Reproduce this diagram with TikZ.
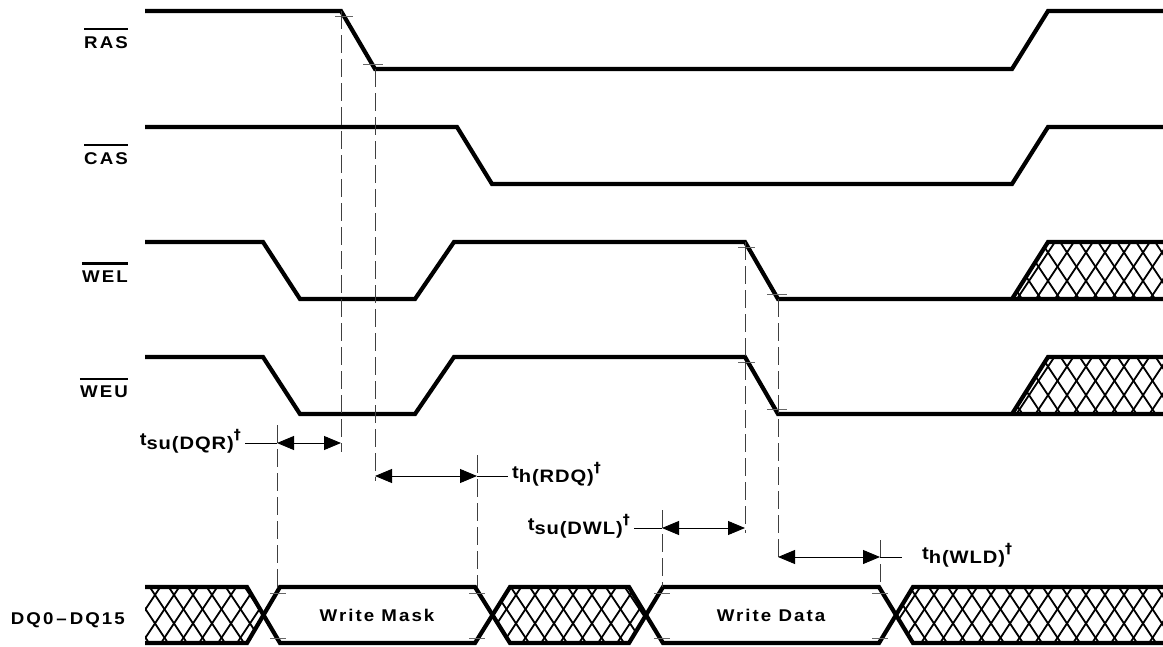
\documentclass[tikz,border=0pt]{standalone}
\usepackage{fontspec}
\newfontfamily\sigfont{Liberation Sans}[LetterSpace=12,FakeStretch=1.1]
\newfontfamily\parfont{Liberation Sans}[LetterSpace=5,FakeStretch=1.12]
\newfontfamily\dagfont{DejaVu Sans}
\usetikzlibrary{arrows.meta}
\tikzset{
  sig/.style={line width=4.2pt},
  guide/.style={line width=0.8pt, dash pattern=on 18pt off 6pt, black!75},
  edgetick/.style={line width=0.8pt, black!60},
  dimarrow/.style={line width=0.9pt, {Triangle[length=17pt,width=14pt]}-{Triangle[length=17pt,width=14pt]}},
  leader/.style={line width=0.9pt},
  hatchline/.style={line width=1.8pt},
  namebar/.style={line width=2.2pt},
  signame/.style={font=\sigfont\bfseries\fontsize{17}{19}\selectfont, inner sep=0pt, anchor=east},
  buslabel/.style={font=\sigfont\bfseries\fontsize{17}{19}\selectfont, inner sep=0pt},
  parlabel/.style={font=\parfont\bfseries\fontsize{18}{20}\selectfont, inner sep=0pt}
}
\newcommand{\tpar}[2]{t\raisebox{-4pt}{#1(#2)}\raisebox{6pt}{\dagfont\bfseries\fontsize{14}{16}\selectfont †}}
\newcommand{\xhatch}[1]{%
  \begin{scope}
    \clip #1;
    \foreach \i in {0,...,105} {
      \draw[hatchline] ({\i*19-450},0) -- ++(430,646);
      \draw[hatchline] ({\i*19},0) -- ++(-430,646);
    }
  \end{scope}}
\begin{document}
\begin{tikzpicture}[x=1pt,y=-1pt]
\useasboundingbox (0,0) rectangle (1163,646);

% signal names
\node[signame] (ras) at (128,42.5) {RAS};
\node[signame] (cas) at (128,158.5) {CAS};
\node[signame] (wel) at (128,276.5) {WEL};
\node[signame] (weu) at (128,392) {WEU};
\foreach \n in {ras,cas,wel,weu}
  \draw[namebar] ([yshift=7pt]\n.north west) -- ([yshift=7pt]\n.north east);
\node[signame] (dq) at (125,620) {DQ0\hspace{3pt}–\hspace{3pt}DQ15};

% hatched areas
\xhatch{(1012,299) -- (1048,242) -- (1163,242) -- (1163,299) -- cycle}
\xhatch{(1012,414) -- (1048,357) -- (1163,357) -- (1163,414) -- cycle}
\xhatch{(145,587) -- (247,587) -- (263.5,615) -- (247,643) -- (145,643) -- cycle}
\xhatch{(492.5,615) -- (510,587) -- (629,587) -- (646,615) -- (629,643) -- (510,643) -- cycle}
\xhatch{(896,615) -- (913,587) -- (1163,587) -- (1163,643) -- (913,643) -- cycle}

% waveforms
\draw[sig] (145,11) -- (341,11) -- (375,69) -- (1012,69) -- (1048,11) -- (1163,11);
\draw[sig] (145,127) -- (457,127) -- (492,184) -- (1012,184) -- (1048,127) -- (1163,127);
\draw[sig] (145,242) -- (263,242) -- (300,299) -- (415,299) -- (454,242) -- (745,242) -- (778,299) -- (1163,299);
\draw[sig] (1012,299) -- (1048,242) -- (1163,242);
\draw[sig] (145,357) -- (263,357) -- (300,414) -- (415,414) -- (454,357) -- (745,357) -- (778,414) -- (1163,414);
\draw[sig] (1012,414) -- (1048,357) -- (1163,357);

% data bus
\draw[sig] (145,587) -- (247,587) -- (280,643) -- (475,643) -- (510,587) -- (629,587) -- (663,643) -- (879,643) -- (913,587) -- (1163,587);
\draw[sig] (145,643) -- (247,643) -- (280,587) -- (475,587) -- (510,643) -- (629,643) -- (663,587) -- (879,587) -- (913,643) -- (1163,643);
\node[buslabel] (mask) at (377,615) {Write Mask};
\node[buslabel] (data) at (771,615) {Write Data};

% edge ticks
\draw[edgetick] (335,16) -- (353,16);
\draw[edgetick] (363,64) -- (383,64);
\draw[edgetick] (738,247) -- (755,247);
\draw[edgetick] (767,294) -- (787,294);
\draw[edgetick] (738,362) -- (755,362);
\draw[edgetick] (767,409) -- (787,409);
\foreach \x in {278,477,662,880} {
  \draw[edgetick] (\x-8,593) -- (\x+8,593);
  \draw[edgetick] (\x-8,638) -- (\x+8,638);
}

% guide lines
\draw[guide] (341,11) -- (341,452);
\draw[guide] (375,69) -- (375,481);
\draw[guide] (277,425) -- (277,587);
\draw[guide] (477,455) -- (477,587);
\draw[guide] (745,242) -- (745,533);
\draw[guide] (778,299) -- (778,562);
\draw[guide] (662,510) -- (662,587);
\draw[guide] (880,540) -- (880,587);

% timing parameters
\coordinate (dqrA) at (277,443);
\coordinate (dqrB) at (341,443);
\coordinate (rdqA) at (375,476);
\coordinate (rdqB) at (477,476);
\coordinate (dwlA) at (662,528);
\coordinate (dwlB) at (745,528);
\coordinate (wldA) at (778,557);
\coordinate (wldB) at (880,557);
\draw[dimarrow] (dqrA) -- (dqrB);
\draw[dimarrow] (rdqA) -- (rdqB);
\draw[dimarrow] (dwlA) -- (dwlB);
\draw[dimarrow] (wldA) -- (wldB);

\node[parlabel, anchor=base east] (tdqr) at (241,445) {\tpar{su}{DQR}};
\node[parlabel, anchor=base west] (trdq) at (512,478) {\tpar{h}{RDQ}};
\node[parlabel, anchor=base east] (tdwl) at (630,530) {\tpar{su}{DWL}};
\node[parlabel, anchor=base west] (twld) at (922,559) {\tpar{h}{WLD}};
\draw[leader] ([xshift=4pt]tdqr.east |- dqrA) -- (dqrA);
\draw[leader] (rdqB) -- ([xshift=-4pt]trdq.west |- rdqB);
\draw[leader] ([xshift=4pt]tdwl.east |- dwlA) -- (dwlA);
\draw[leader] (wldB) -- ++(22,0) coordinate (wldC);
\end{tikzpicture}
\end{document}
